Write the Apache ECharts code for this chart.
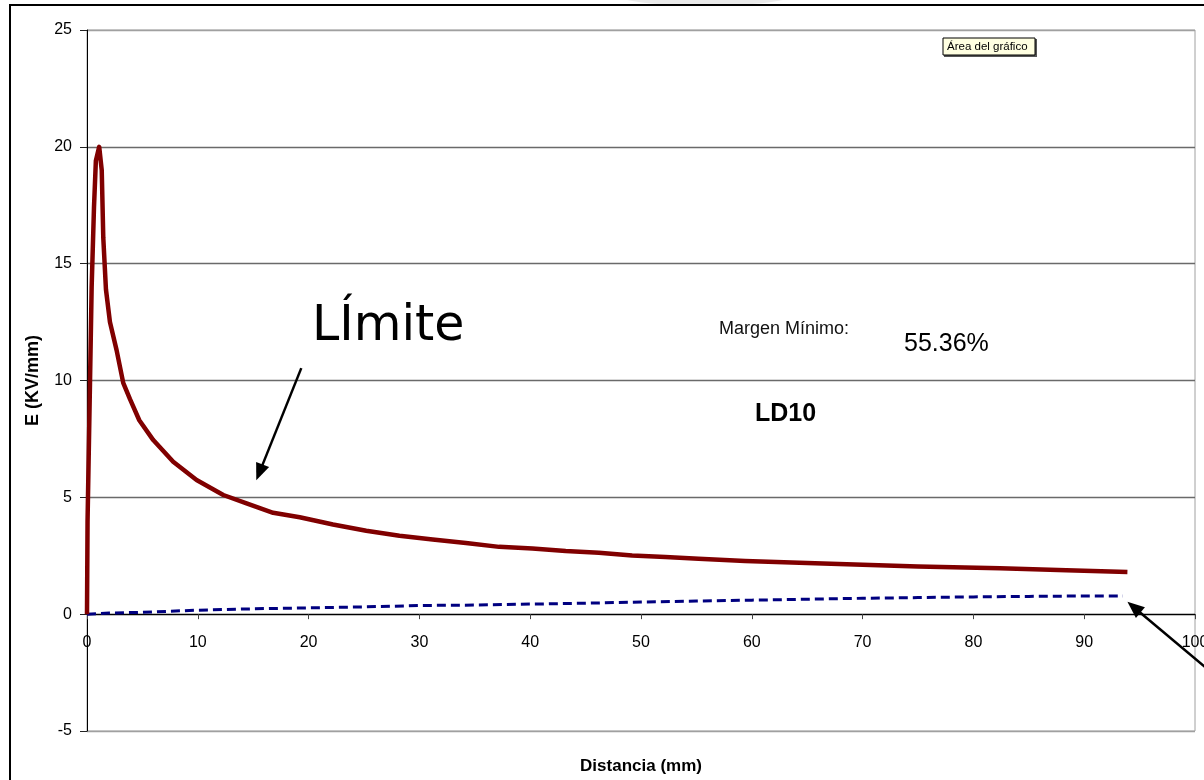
<!DOCTYPE html>
<html>
<head>
<meta charset="utf-8">
<script src="https://cdn.jsdelivr.net/npm/echarts@6/dist/echarts.min.js"></script>
<style>
  html, body { margin: 0; padding: 0; background: #fff; }
  #chart { width: 1204px; height: 780px; }
</style>
</head>
<body>
<div id="chart"></div>
<script>
// Field strength along the creepage path (Límite curve) and the working field (dashed)
const limitDist = [0, 0.05, 0.27, 0.42, 0.63, 0.8, 1.1, 1.33, 1.47, 1.71, 2.07, 2.67, 3.27, 3.88, 4.72,
  5.98, 7.78, 9.89, 12.3, 14.4, 16.8, 19.2, 22.2, 25.2, 28.2, 31.2, 34.2, 37.2, 40.2, 43.2, 46.2,
  49.2, 52.2, 55.2, 59.4, 65, 70, 75, 82.4, 88.4, 93.9];
const limitE = [0, 4.0, 9.9, 14, 17.4, 19.4, 20, 19, 16.1, 13.9, 12.5, 11.3, 9.9, 9.2, 8.3,
  7.45, 6.52, 5.74, 5.1, 4.74, 4.34, 4.15, 3.84, 3.57, 3.36, 3.2, 3.05, 2.88, 2.81, 2.7, 2.63,
  2.51, 2.45, 2.37, 2.28, 2.19, 2.11, 2.04, 1.96, 1.88, 1.8];

const fieldDist = [0, 2, 5, 10, 15, 20, 25, 30, 35, 40, 45, 50, 55, 60, 65, 70, 75, 80, 85, 90, 93.5];
const fieldE = [0, 0.05, 0.08, 0.17, 0.23, 0.27, 0.31, 0.37, 0.39, 0.43, 0.47, 0.52, 0.56, 0.6, 0.64,
  0.68, 0.71, 0.74, 0.76, 0.78, 0.78];

const xTicks = { min: 0, max: 100, step: 10 };
const yTicks = { min: -5, max: 25, step: 5 };

const axisFont = 'Liberation Sans, Arial, sans-serif';

const gridBox = { left: 87, right: 9, top: 30, bottom: 49 };
const plotHeight = 780 - gridBox.top - gridBox.bottom;
// the distance axis crosses the E axis at E = 0
const zeroLift = plotHeight * (0 - yTicks.min) / (yTicks.max - yTicks.min);

const chart = echarts.init(document.getElementById('chart'), null, { renderer: 'canvas' });

chart.setOption({
  animation: false,
  backgroundColor: '#fff',
  grid: Object.assign({
    containLabel: false,
    outerBoundsMode: 'none',
    show: true, borderColor: '#a0a0a0', borderWidth: 1, backgroundColor: '#fff'
  }, gridBox),
  xAxis: {
    type: 'value',
    min: xTicks.min, max: xTicks.max, interval: xTicks.step,
    offset: -zeroLift,
    name: 'Distancia (mm)',
    nameLocation: 'middle',
    nameGap: 144,
    nameTextStyle: { fontFamily: axisFont, fontSize: 17, fontWeight: 'bold', color: '#000' },
    axisLine: { onZero: false, lineStyle: { color: '#000', width: 1 } },
    axisTick: { show: true, inside: false, length: 5, lineStyle: { color: '#444' } },
    axisLabel: { fontFamily: axisFont, fontSize: 16, color: '#000', margin: 20, showMaxLabel: true },
    splitLine: { show: false }
  },
  yAxis: {
    type: 'value',
    min: yTicks.min, max: yTicks.max, interval: yTicks.step,
    name: 'E (KV/mm)',
    nameLocation: 'middle',
    nameGap: 45,
    nameRotate: 90,
    nameTextStyle: { fontFamily: axisFont, fontSize: 18, fontWeight: 'bold', color: '#000' },
    axisLine: { show: true, onZero: false, lineStyle: { color: '#000', width: 1 } },
    axisTick: { show: true, inside: false, length: 7, lineStyle: { color: '#222' } },
    axisLabel: { fontFamily: axisFont, fontSize: 16, color: '#000', margin: 15 },
    splitLine: {
      show: true,
      lineStyle: { color: ['#a0a0a0', '#000', '#6a6a6a', '#6a6a6a', '#6a6a6a', '#6a6a6a', '#a0a0a0'], width: 1.3 }
    }
  },
  series: [
    {
      name: 'Límite',
      type: 'line',
      data: limitDist.map((d, i) => [d, limitE[i]]),
      showSymbol: false,
      lineStyle: { color: '#800000', width: 4.5, join: 'round', cap: 'butt' },
      z: 3
    },
    {
      name: 'Campo',
      type: 'line',
      data: fieldDist.map((d, i) => [d, fieldE[i]]),
      showSymbol: false,
      lineStyle: { color: '#000080', width: 3, type: [9, 5] },
      z: 2
    }
  ]
});

// Annotation anchors, in data units (distance, E)
const limiteArrow = { from: [19.34, 10.53], to: [15.28, 5.73] };
const marginArrow = { from: [102.0, -2.7], to: [93.9, 0.53] };

function px(p) { return chart.convertToPixel({ gridIndex: 0 }, p); }

function arrow(a, head, headW) {
  const p0 = px(a.from), p1 = px(a.to);
  const dx = p1[0] - p0[0], dy = p1[1] - p0[1];
  const len = Math.hypot(dx, dy);
  const ux = dx / len, uy = dy / len;
  const bx = p1[0] - ux * head, by = p1[1] - uy * head;
  const nx = -uy * headW / 2, ny = ux * headW / 2;
  return [
    { type: 'line', shape: { x1: p0[0], y1: p0[1], x2: bx + ux * 2, y2: by + uy * 2 },
      style: { stroke: '#000', lineWidth: 2.5 }, z: 20 },
    { type: 'polygon', shape: { points: [[p1[0], p1[1]], [bx + nx, by + ny], [bx - nx, by - ny]] },
      style: { fill: '#000' }, z: 20 }
  ];
}

chart.setOption({
  graphic: [
    // soft shade above the frame
    { type: 'ellipse', shape: { cx: 705, cy: -8, rx: 95, ry: 14 },
      style: { fill: 'rgba(0,0,0,0.08)', shadowBlur: 12, shadowColor: 'rgba(0,0,0,0.15)' }, z: 29, silent: true },
    // outer chart frame
    { type: 'rect', shape: { x: 10, y: 5, width: 1210, height: 800 },
      style: { fill: 'none', stroke: '#000', lineWidth: 2 }, z: 30, silent: true },
    // hover tip over the plot area
    { type: 'rect', shape: { x: 944, y: 39, width: 93, height: 18 },
      style: { fill: '#555' }, z: 24 },
    { type: 'rect', shape: { x: 943, y: 38, width: 92, height: 17 },
      style: { fill: '#ffffe1', stroke: '#000', lineWidth: 1 }, z: 25 },
    { type: 'text', x: 947, y: 47, z: 26,
      style: { text: 'Área del gráfico', font: '11.5px "Liberation Sans", Arial, sans-serif',
        fill: '#000', textVerticalAlign: 'middle' } },
    // annotations
    { type: 'text', x: 312, y: 327, z: 21,
      style: { text: 'LÍmite', font: '49px "DejaVu Sans", Verdana, sans-serif', fill: '#000',
        textVerticalAlign: 'middle' } },
    { type: 'text', x: 719, y: 329, z: 21,
      style: { text: 'Margen Mínimo:', font: '18px "Liberation Sans", Arial, sans-serif', fill: '#111',
        textVerticalAlign: 'middle' } },
    { type: 'text', x: 904, y: 344, z: 21,
      style: { text: '55.36%', font: '25px "Liberation Sans", Arial, sans-serif', fill: '#000',
        textVerticalAlign: 'middle' } },
    { type: 'text', x: 755, y: 414, z: 21,
      style: { text: 'LD10', font: 'bold 25px "Liberation Sans", Arial, sans-serif', fill: '#000',
        textVerticalAlign: 'middle' } }
  ].concat(arrow(limiteArrow, 17, 14), arrow(marginArrow, 17, 14))
});
</script>
</body>
</html>
